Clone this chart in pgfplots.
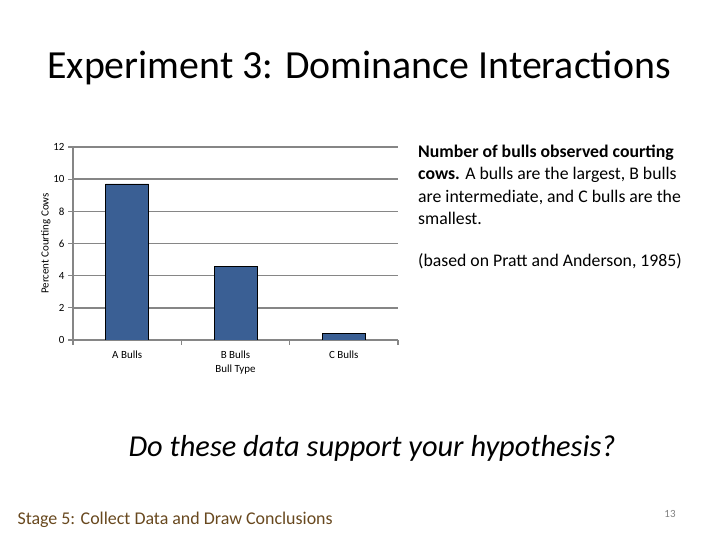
\documentclass[border=0pt]{standalone}
\usepackage{fontspec}
\setmainfont{Carlito}
\usepackage{pgfplots}
\pgfplotsset{compat=1.18}
\definecolor{barblue}{RGB}{58,95,148}
\definecolor{gridgray}{RGB}{134,134,134}
\definecolor{stagebrown}{RGB}{104,72,30}
\begin{document}
\begin{tikzpicture}[x=1bp,y=1bp]
\path[use as bounding box] (0,0) rectangle (720,540);
% title
\node[font=\fontsize{40}{46}\selectfont] at (359,472) {Experiment 3: Dominance Interactions};
% side text
\node[anchor=north west, text width=274bp, align=flush left, inner sep=0pt,
      font=\fontsize{17.8}{22.4}\selectfont] at (418,395)
  {\hyphenpenalty=10000\textbf{Number of bulls observed courting cows.} A bulls are the largest, B bulls are intermediate, and C bulls are the smallest.\\[19.5pt]
   (based on Pratt and Anderson, 1985)};
% question
\node[font=\fontsize{30.5}{36}\itshape] at (372,92) {Do these data support your hypothesis?};
% footer
\node[anchor=west, text=stagebrown, font=\fontsize{18}{22}\selectfont] at (14,20) {Stage 5: Collect Data and Draw Conclusions};
\node[text=gray, font=\fontsize{11}{13}\selectfont] at (670,26) {13};
\begin{axis}[
    at={(73bp,200bp)}, anchor=south west,
    scale only axis, width=325bp, height=193bp,
    xmin=-0.5, xmax=2.5, ymin=0, ymax=12,
    ytick={0,2,...,12},
    xtick={0,1,2},
    xticklabels={A Bulls, B Bulls, C Bulls},
    minor xtick={-0.5,0.5,1.5,2.5},
    axis x line*=bottom, axis y line*=left,
    axis line style={gridgray, line width=1.2pt, -},
    ymajorgrids, grid style={gridgray, line width=1.5pt},
    major tick style={gridgray, line width=1.2pt},
    minor tick style={gridgray, line width=1.2pt},
    tick align=outside,
    major tick length=5bp, minor tick length=5bp,
    x tick style={draw=none},
    minor x tick style={draw=gridgray},
    /pgf/number format/assume math mode=true,
    ticklabel style={font=\fontsize{11}{13}\selectfont},
    xticklabel style={yshift=-2bp},
    ylabel={Percent Courting Cows},
    ylabel style={font=\fontsize{11}{13}\selectfont, yshift=-4bp},
    xlabel={Bull Type},
    xlabel style={font=\fontsize{11}{13}\selectfont},
    ybar, bar width=43bp,
]
\addplot[fill=barblue, draw=black, line width=0.9pt] coordinates {(0,9.7) (1,4.6) (2,0.4)};
\end{axis}
\end{tikzpicture}
\end{document}
